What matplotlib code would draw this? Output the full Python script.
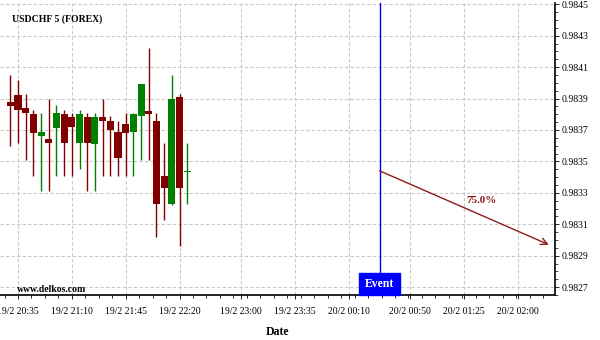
import numpy as np
import pandas as pd
import matplotlib
matplotlib.use('Agg')
import matplotlib.pyplot as plt
from matplotlib.patches import Rectangle
from matplotlib.ticker import MultipleLocator, FixedLocator

plt.rcParams['font.family'] = ['Liberation Serif', 'DejaVu Serif']

# USDCHF 5 minute bars
bar_times = pd.date_range('2014-02-19 20:30', periods=24, freq='5min')
opens  = [0.98388, 0.98392, 0.98384, 0.98380, 0.98366, 0.98364, 0.98371, 0.98380,
          0.98378, 0.98362, 0.98378, 0.98361, 0.98378, 0.98376, 0.98369, 0.98374,
          0.98369, 0.98379, 0.98382, 0.98376, 0.98341, 0.98323, 0.98391, 0.98343]
highs  = [0.98405, 0.98402, 0.98393, 0.98383, 0.98381, 0.98390, 0.98386, 0.98383,
          0.98381, 0.98383, 0.98381, 0.98381, 0.98390, 0.98379, 0.98376, 0.98381,
          0.98381, 0.98399, 0.98422, 0.98381, 0.98362, 0.98405, 0.98393, 0.98362]
lows   = [0.98360, 0.98362, 0.98351, 0.98341, 0.98331, 0.98331, 0.98341, 0.98341,
          0.98341, 0.98345, 0.98331, 0.98331, 0.98341, 0.98341, 0.98341, 0.98341,
          0.98341, 0.98351, 0.98351, 0.98302, 0.98313, 0.98322, 0.98296, 0.98323]
closes = [0.98385, 0.98383, 0.98381, 0.98368, 0.98369, 0.98362, 0.98381, 0.98362,
          0.98372, 0.98380, 0.98362, 0.98378, 0.98376, 0.98370, 0.98352, 0.98368,
          0.98380, 0.98399, 0.98380, 0.98323, 0.98333, 0.98390, 0.98333, 0.98344]

# event and forecast
event_time = pd.Timestamp('2014-02-20 00:30')
target_time = pd.Timestamp('2014-02-20 02:20')
target_price = 0.98297
probability = '75.0%'

# x axis labels
tick_times = pd.to_datetime(['2014-02-19 20:35', '2014-02-19 21:10', '2014-02-19 21:45',
                             '2014-02-19 22:20', '2014-02-19 23:00', '2014-02-19 23:35',
                             '2014-02-20 00:10', '2014-02-20 00:50', '2014-02-20 01:25',
                             '2014-02-20 02:00'])
tick_labels = ['19/2 20:35', '19/2 21:10', '19/2 21:45', '19/2 22:20', '19/2 23:00',
               '19/2 23:35', '20/2 00:10', '20/2 00:50', '20/2 01:25', '20/2 02:00']
y_ticks = [0.9827, 0.9829, 0.9831, 0.9833, 0.9835, 0.9837, 0.9839, 0.9841, 0.9843, 0.9845]

RED = '#800000'
GREEN = '#008000'

# minutes from the first label
t0 = tick_times[0]
def mins(t):
    return (pd.DatetimeIndex(t) - t0).total_seconds() / 60.0

x = mins(bar_times)
o = np.array(opens); h = np.array(highs); l = np.array(lows); c = np.array(closes)
colors = [GREEN if cc >= oo else RED for oo, cc in zip(o, c)]

fig = plt.figure(figsize=(6, 3.4), dpi=100)
ax = fig.add_axes([0, 0.1324, 0.925, 0.8597])

# grid
grid_kw = dict(color='#c8c8c8', linewidth=0.8, linestyle=(0, (3, 2)), zorder=0)
for t in mins(tick_times):
    ax.axvline(t, **grid_kw)
for v in y_ticks:
    ax.axhline(v, **grid_kw)

# candles
ax.vlines(x, l, h, colors=colors, linewidth=1.0, zorder=2)
body = np.maximum(np.abs(c - o), 0.000008)
ax.bar(x, body, bottom=np.minimum(o, c), width=4.6, color=colors, zorder=3)

# event marker
ev = mins([event_time])[0]
tg = mins([target_time])[0]
ylo, yhi = 0.98265, 0.98451
box_top = 0.98279
ax.add_patch(Rectangle((ev - 13.7, ylo), 27.0, box_top - ylo, color='#0000ff',
                       zorder=4, clip_on=False))
ax.text(ev, (ylo + box_top) / 2, 'Event', color='white', fontsize=8.5,
        fontweight='bold', ha='center', va='center', zorder=5)
ax.axvline(ev, ymin=(box_top - ylo) / (yhi - ylo), ymax=1, color='#0000ff',
           linewidth=1.0, zorder=4)

# forecast arrow
ax.annotate('', xy=(tg, target_price), xytext=(ev, closes[-1]),
            arrowprops=dict(arrowstyle='->', color='#8b1a1a', lw=1.0,
                            mutation_scale=12, shrinkA=0, shrinkB=0), zorder=5)
ax.text(301, 0.98325, probability, color='#8b1a1a', fontsize=8,
        fontweight='bold', ha='center', va='center')

ax.set_xlim(-11.7, 349.0)
ax.set_ylim(ylo, yhi)

ax.xaxis.set_major_locator(FixedLocator(mins(tick_times)))
ax.set_xticklabels(tick_labels)
ax.xaxis.set_minor_locator(MultipleLocator(8.75))
ax.tick_params(axis='x', which='major', direction='out', length=3, width=0.6,
               labelsize=7, pad=6)
ax.tick_params(axis='x', which='minor', direction='out', length=2.5, width=0.6)

ax.yaxis.tick_right()
ax.set_yticks(y_ticks)
ax.set_yticklabels([f'{v:.4f}' for v in y_ticks])
ax.yaxis.set_minor_locator(MultipleLocator(0.00005))
ax.tick_params(axis='y', which='major', direction='out', length=3, width=0.6,
               labelsize=7, pad=2)
ax.tick_params(axis='y', which='minor', direction='out', length=2, width=0.5)

for side in ['left', 'top']:
    ax.spines[side].set_visible(False)
ax.spines['bottom'].set_linewidth(1.2)
ax.spines['right'].set_linewidth(1.2)

ax.set_xlabel('Date', fontsize=8.5, fontweight='bold', labelpad=7)

ax.text(0.021, 0.9425, 'USDCHF 5 (FOREX)', transform=ax.transAxes, fontsize=7,
        fontweight='bold', va='center', ha='left')
ax.text(0.030, 0.02, 'www.delkos.com', transform=ax.transAxes, fontsize=7,
        fontweight='bold', va='center', ha='left')

fig.savefig('out.png', dpi=100)
